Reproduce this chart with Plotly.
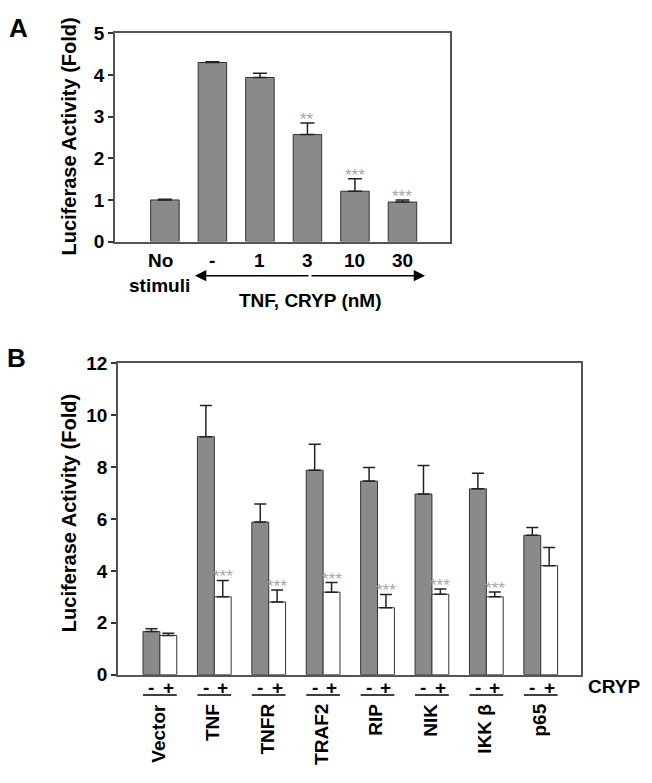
import plotly.graph_objects as go

W, H = 652, 783

# ---------------- data ----------------
catsA = ["No stimuli", "-", "1", "3", "10", "30"]
labelsA = ["No", "-", "1", "3", "10", "30"]
valsA = [1.0, 4.3, 3.94, 2.57, 1.21, 0.95]
errA = [0.02, 0.02, 0.1, 0.28, 0.3, 0.05]
starsA = ["", "", "", "**", "***", "***"]

groupsB = ["Vector", "TNF", "TNFR", "TRAF2", "RIP", "NIK", "IKK β", "p65"]
minusB = [1.66, 9.17, 5.88, 7.88, 7.46, 6.96, 7.16, 5.37]
minusErrB = [0.11, 1.2, 0.7, 1.0, 0.52, 1.1, 0.6, 0.3]
plusB = [1.51, 3.0, 2.8, 3.18, 2.58, 3.1, 3.0, 4.2]
plusErrB = [0.09, 0.63, 0.46, 0.37, 0.51, 0.2, 0.19, 0.7]
starsB = ["", "***", "***", "***", "***", "***", "***", ""]

GRAY = "#8a8a8a"
EDGE = "#333333"
FONT = "Liberation Sans, Arial, sans-serif"


def px(x):
    return x / W


def py(y):
    return 1 - y / H


fig = go.Figure()

fig.add_trace(go.Bar(
    x=catsA, y=valsA, width=0.6, xaxis="x", yaxis="y",
    marker=dict(color=GRAY, line=dict(color=EDGE, width=1)),
    error_y=dict(type="data", symmetric=False, array=errA, arrayminus=[0] * len(errA),
                 color="#222", thickness=1.5, width=7),
    showlegend=False, hoverinfo="skip",
))

bw = 0.31
fig.add_trace(go.Bar(
    x=groupsB, y=minusB, width=bw, offset=-bw, xaxis="x2", yaxis="y2",
    marker=dict(color=GRAY, line=dict(color=EDGE, width=1)),
    error_y=dict(type="data", symmetric=False, array=minusErrB, arrayminus=[0] * len(minusErrB),
                 color="#222", thickness=1.5, width=6),
    showlegend=False, hoverinfo="skip",
))
fig.add_trace(go.Bar(
    x=groupsB, y=plusB, width=bw, offset=0, xaxis="x2", yaxis="y2",
    marker=dict(color="white", line=dict(color=EDGE, width=1)),
    error_y=dict(type="data", symmetric=False, array=plusErrB, arrayminus=[0] * len(plusErrB),
                 color="#222", thickness=1.5, width=6),
    showlegend=False, hoverinfo="skip",
))

axis_common = dict(showgrid=False, zeroline=False, linecolor="#555", linewidth=1.5,
                   mirror=True, showline=True)

fig.update_layout(
    width=W, height=H, margin=dict(l=0, r=0, t=0, b=0),
    paper_bgcolor="white", plot_bgcolor="white",
    barmode="overlay",
    font=dict(family=FONT, color="black"),
    xaxis=dict(domain=[px(115), px(450)], anchor="y", type="category",
               range=[-1.05, 6.0], showticklabels=False, ticks="", **axis_common),
    yaxis=dict(domain=[py(238), py(24)], anchor="x", range=[0, 5], dtick=1,
               ticks="outside", ticklen=5, tickwidth=1.5, tickcolor="#333",
               tickfont=dict(size=19, family=FONT, weight="bold"), **axis_common),
    xaxis2=dict(domain=[px(118), px(581)], anchor="y2", type="category",
                range=[-0.77, 7.74], showticklabels=False, ticks="", **axis_common),
    yaxis2=dict(domain=[py(683), py(363)], anchor="x2", range=[0, 12], dtick=2,
                ticks="outside", ticklen=5, tickwidth=1.5, tickcolor="#333",
                tickfont=dict(size=19, family=FONT, weight="bold"), **axis_common),
)

ann = []
bold = lambda s: dict(size=s, family=FONT, weight="bold", color="black")
C = dict(xanchor="center", yanchor="middle", showarrow=False)

# panel letters
ann.append(dict(text="A", x=px(18), y=py(19), xref="paper", yref="paper", font=bold(26), **C))
ann.append(dict(text="B", x=px(16), y=py(358), xref="paper", yref="paper", font=bold(26), **C))

# y titles
for yc in (130, 517):
    ann.append(dict(text="Luciferase Activity (Fold)", x=px(69), y=py(yc),
                    xref="paper", yref="paper", textangle=-90, font=bold(20), **C))

# panel A category labels
for i, lab in enumerate(labelsA):
    xx = i - 0.1 if i == 0 else i
    ann.append(dict(text=lab, x=xx, y=py(257), xref="x", yref="paper", font=bold(19), **C))
ann.append(dict(text="stimuli", x=px(159), y=py(283), xref="paper", yref="paper",
                font=bold(19), **C))
ann.append(dict(text="TNF, CRYP (nM)", x=px(310), y=py(298), xref="paper", yref="paper",
                font=bold(19), **C))
# double arrow
mid = (195 + 425) / 2
for head in (195, 425):
    ann.append(dict(text="", x=px(head), y=py(273), xref="paper", yref="paper",
                    ax=mid - head, ay=0, showarrow=True, arrowhead=2, arrowsize=1.5,
                    arrowwidth=1.5, arrowcolor="black"))

# significance stars
STAR = dict(size=17, family=FONT, color="#a8a8a8")
for i, s in enumerate(starsA):
    if s:
        ann.append(dict(text=s, x=i, y=valsA[i] + errA[i], xref="x", yref="y",
                        xanchor="center", yanchor="bottom", yshift=-8, showarrow=False,
                        font=STAR))
for i, s in enumerate(starsB):
    if s:
        ann.append(dict(text=s, x=i + bw / 2, y=plusB[i] + plusErrB[i], xref="x2", yref="y2",
                        xanchor="center", yanchor="bottom", yshift=-8, showarrow=False,
                        font=STAR))

# panel B bottom labels
shapes = []
for i, g in enumerate(groupsB):
    ann.append(dict(text="-", x=i - bw / 2, y=py(696), xref="x2", yref="paper",
                    font=bold(19), **C))
    ann.append(dict(text="+", x=i + bw / 2, y=py(696), xref="x2", yref="paper",
                    font=bold(19), **C))
    shapes.append(dict(type="line", xref="x2", yref="paper", x0=i - bw, x1=i + bw,
                       y0=py(704), y1=py(704), line=dict(color="black", width=1.5)))
    ann.append(dict(text=g, x=i - 0.03, y=py(711), xref="x2", yref="paper",
                    textangle=-90, xanchor="center", yanchor="top", showarrow=False,
                    font=bold(19)))
ann.append(dict(text="CRYP", x=px(614), y=py(695), xref="paper", yref="paper",
                font=bold(19), **C))

fig.update_layout(annotations=ann, shapes=shapes)
fig.write_html("out.html", config={"displayModeBar": False},
               post_script="document.body.style.margin='0';document.body.style.overflow='hidden';")
